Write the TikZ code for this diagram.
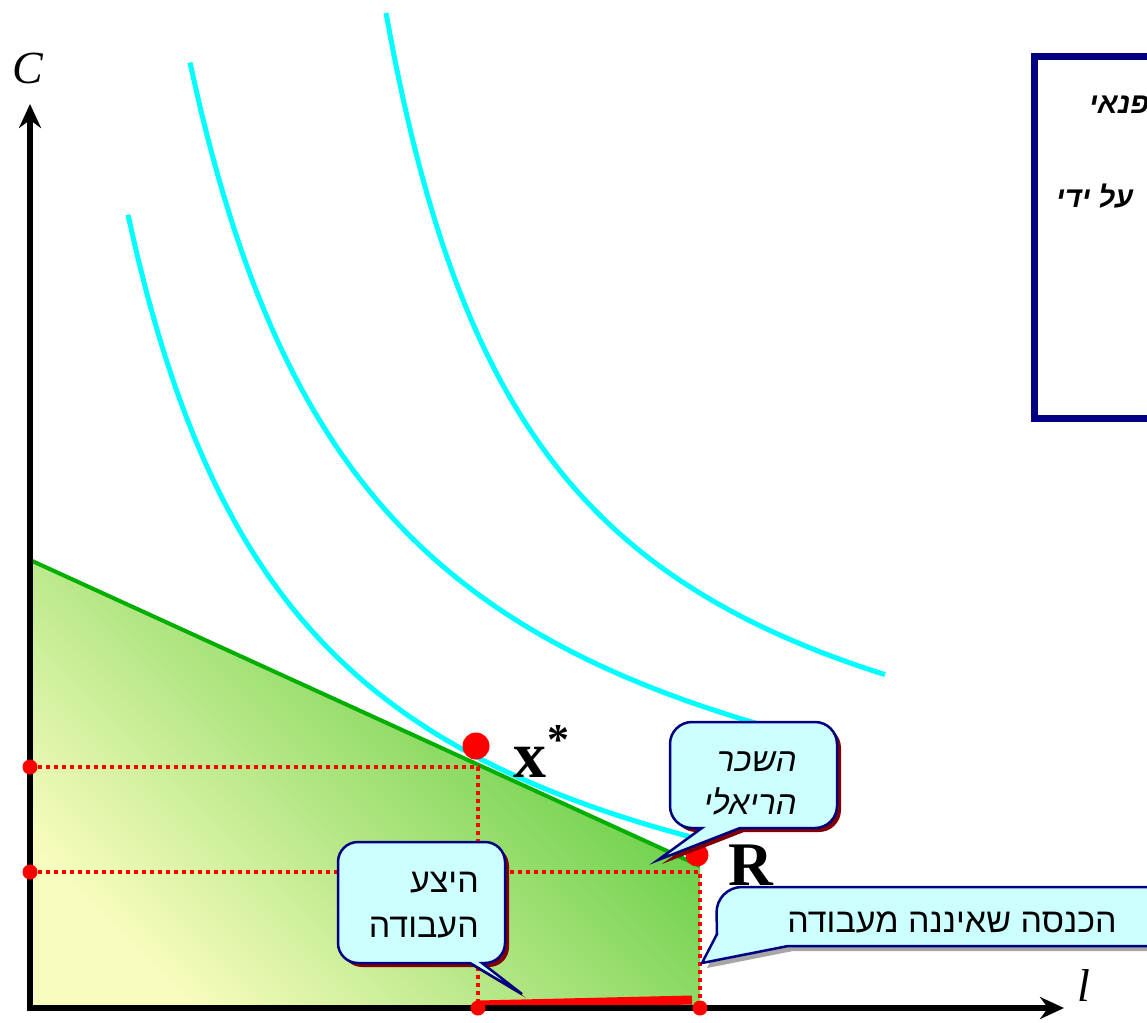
\documentclass[tikz,border=0pt]{standalone}
\usepackage{fontspec}
\setmainfont{Liberation Serif}
\newfontfamily\hebfont[Script=Hebrew]{Liberation Sans}
\TeXXeTstate=1
\usetikzlibrary{arrows.meta}
\usetikzlibrary{shadows}

\definecolor{navy}{RGB}{0,0,128}
\definecolor{aqua}{RGB}{0,255,255}
\definecolor{bubblefill}{RGB}{204,255,255}
\definecolor{paleyellow}{RGB}{248,252,190}
\definecolor{midgreen}{RGB}{138,216,98}
\definecolor{deepgreen}{RGB}{82,200,52}
\definecolor{budgetgreen}{RGB}{0,175,0}
\definecolor{shadowred}{RGB}{128,0,0}

\begin{document}
\begin{tikzpicture}[x=1pt, y=-1pt,
axis/.style={line width=5.5pt, -{Stealth[length=24pt, width=22pt, inset=8pt]}},
indiff/.style={aqua, line width=5pt, smooth, samples=60},
guide/.style={red, line width=4pt, dash pattern=on 4pt off 4pt},
smalldot/.style={circle, fill=red, inner sep=0pt, minimum size=15pt},
bigdot/.style={circle, fill=red, inner sep=0pt, minimum size=27pt},
bubble/.style={fill=bubblefill, draw=navy, line width=2.5pt},
redshadow/.style={drop shadow={shadow xshift=4pt, shadow yshift=-4pt, fill=shadowred, opacity=1}},
grayshadow/.style={drop shadow={shadow xshift=5pt, shadow yshift=-5pt, fill=gray!70, opacity=1}},
heb/.style={font=\hebfont\fontsize{34}{45}\selectfont, align=right, inner sep=0pt},
]
\useasboundingbox (0,0) rectangle (1147,1022);

% points of the diagram
\coordinate (origin) at (30,1008);
\coordinate (ctop) at (30,560);
\coordinate (kink) at (700,866);
\coordinate (cstar) at (30,767);
\coordinate (lstar) at (478,1008);
\coordinate (cR) at (30,872);
\coordinate (lR) at (700,1008);

% budget set
\shade[bottom color=paleyellow, middle color=midgreen, top color=deepgreen, shading angle=-45]
    (ctop) -- (kink) -- (lR) -- (origin) -- cycle;
\draw[budgetgreen, line width=4pt] (ctop) -- (kink);

% indifference curves
\draw[indiff, domain=128:700] plot (\x, {1008 + 25.7 - 1457.66/(\x/100 + 0.5)});
\draw[indiff, domain=190:790] plot (\x, {1008 - 63 - 1676.7/(\x/100)});
\draw[indiff, domain=386:885] plot (\x, {1008 - 126.6 - 1354.71/(\x/100 - 2.3)});

% guides
\draw[guide] (cstar) -| (lstar);
\draw[guide] (cR) -| (lR);
\draw[red, line width=9pt] ([yshift=3pt]lstar) -- ([xshift=-8pt, yshift=8pt]lR);

% axes
\draw[axis] ([yshift=-2.75pt]origin) -- (30,104);
\draw[axis] ([xshift=-2.75pt]origin) -- (1064,1008);
\node[font=\itshape\fontsize{46}{50}\selectfont] (clabel) at (28,68) {C};
\node[font=\itshape\fontsize{46}{50}\selectfont] (llabel) at (1084,986) {l};

% dots
\node[smalldot] (dcstar) at (cstar) {};
\node[smalldot] (dcR) at (cR) {};
\node[smalldot] (dlstar) at (lstar) {};
\node[smalldot] (dlR) at (lR) {};
\node[bigdot] (xstar) at (476,746) {};
\node[bigdot, minimum size=23pt] (rpoint) at (697,855) {};
\node[font=\bfseries\fontsize{66}{66}\selectfont, inner sep=0pt] (xlabel) at (530,762) {x};
\node[font=\bfseries\fontsize{44}{44}\selectfont, inner sep=0pt] (starlabel) at (558,740) {*};
\node[font=\bfseries\fontsize{62}{64}\selectfont, inner sep=0pt] (rlabel) at (751,865) {R};

% callouts
\coordinate (wagetip) at (658,860);
\coordinate (supplytip) at (522,994);
\coordinate (incometip) at (702,963);
\draw[bubble, redshadow] (754,722) [rounded corners=22] -- (837,722) -- (837,828) [sharp corners]
    -- (740,828) -- (wagetip) -- (702,828) [rounded corners=22] -- (670,828) -- (670,722) -- cycle;
\node[heb, font=\hebfont\itshape\fontsize{33}{43}\selectfont, anchor=east] (wage) at (797,783)
    {\beginR השכר\endR\\\beginR הריאלי\endR};

\draw[bubble, redshadow] (420,842) [rounded corners=20] -- (505,842) -- (505,963) [sharp corners]
    -- (482,963) -- (supplytip) -- (470,963) [rounded corners=20] -- (338,963) -- (338,842) -- cycle;
\node[heb, anchor=east] (supply) at (479,905)
    {\beginR היצע\endR\\\beginR העבודה\endR};

\draw[bubble, grayshadow] (900,887) [rounded corners=26] -- (1175,887) -- (1175,946) [sharp corners]
    -- (788,946) -- (incometip) -- (717,934) [rounded corners=26] -- (716,887) -- cycle;
\node[heb] (income) at (952,922) {\beginR הכנסה שאיננה מעבודה\endR};

% note box
\draw[navy, line width=7pt] (1180,57) -- (1034,57) -- (1034,418) -- (1180,418);
\node[font=\hebfont\bfseries\itshape\fontsize{29}{30}\selectfont, anchor=west, inner sep=0pt]
    (leisure) at (1089,105) {\beginR פנאי\endR};
\node[font=\hebfont\bfseries\itshape\fontsize{29}{30}\selectfont, anchor=west, inner sep=0pt]
    (byline) at (1056,196) {\beginR על ידי\endR};
\end{tikzpicture}
\end{document}
